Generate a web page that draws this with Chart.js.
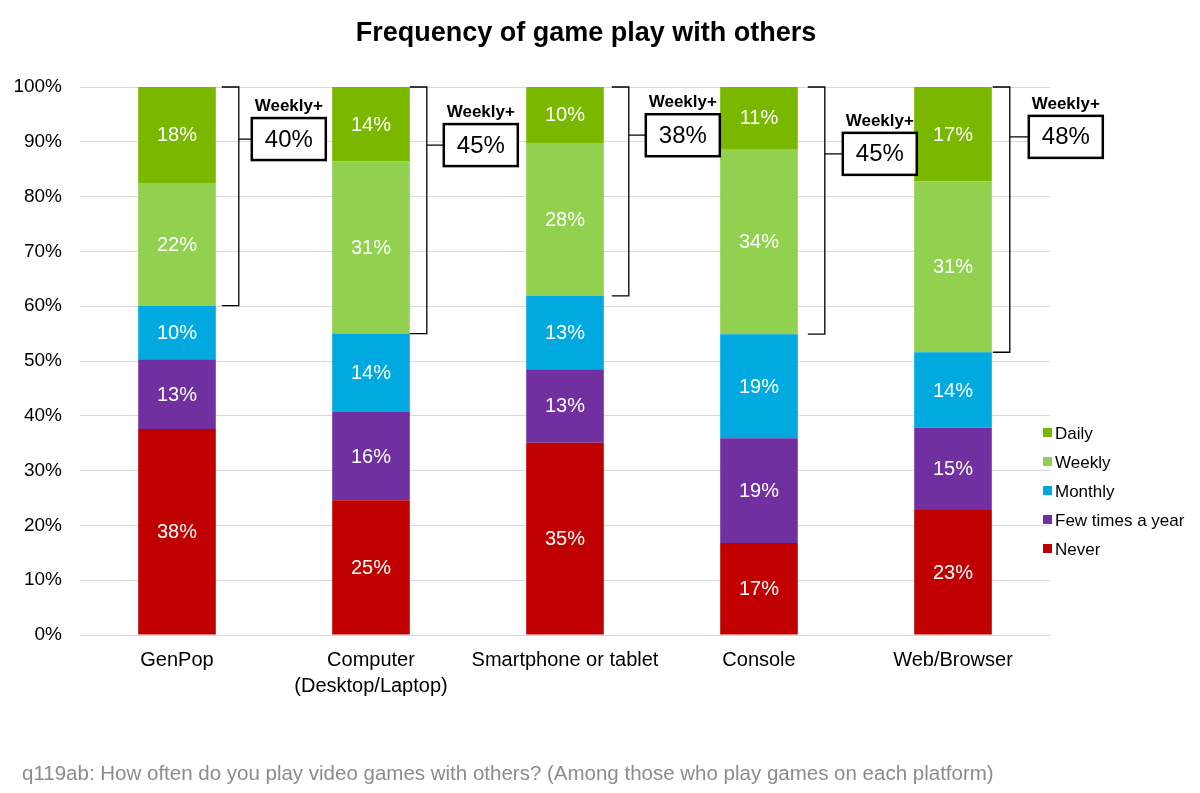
<!DOCTYPE html>
<html lang="en">
<head>
<meta charset="UTF-8">
<title>Frequency of game play with others</title>
<script src="https://cdn.jsdelivr.net/npm/chart.js"></script>
<style>
  html, body { margin: 0; padding: 0; background: #fff; }
  #wrap { width: 1200px; height: 793px; position: relative; }
</style>
</head>
<body>
<div id="wrap"><canvas id="chart"></canvas></div>
<script>
// data
const categories = ['GenPop', ['Computer', '(Desktop/Laptop)'], 'Smartphone or tablet', 'Console', 'Web/Browser'];
const never    = [37.6, 24.6, 35.1, 16.8, 22.8];
const fewTimes = [12.7, 16.1, 13.4, 19.1, 15.0];
const monthly  = [9.8, 14.3, 13.4, 19.0, 13.8];
const weekly   = [22.4, 31.4, 27.9, 33.8, 31.2];
const daily    = [17.5, 13.6, 10.2, 11.3, 17.2];
const weeklyPlus = [40, 45, 38, 45, 48];
const seriesNames = ['Never', 'Few times a year', 'Monthly', 'Weekly', 'Daily'];
const seriesColors = ['#C00000', '#7030A0', '#00A9E0', '#92D050', '#7AB800'];

const FONT = '"Liberation Sans", Arial, sans-serif';

// where each Weekly+ callout sits: bracket offset from bar edge (px), box centre on the y scale (%)
const calloutPos = [
  { dx: 23, gap: 13, at: 90.5 },
  { dx: 17, gap: 17, at: 89.4 },
  { dx: 25, gap: 17, at: 91.2 },
  { dx: 27, gap: 18, at: 87.8 },
  { dx: 18, gap: 19, at: 90.9 }
];

const segLabels = {
  id: 'segLabels',
  afterDatasetsDraw(chart) {
    const ctx = chart.ctx;
    ctx.save();
    ctx.font = '20px ' + FONT;
    ctx.fillStyle = '#fff';
    ctx.textAlign = 'center';
    ctx.textBaseline = 'middle';
    chart.data.datasets.forEach((ds, di) => {
      chart.getDatasetMeta(di).data.forEach((bar, i) => {
        ctx.fillText(Math.round(ds.data[i]) + '%', bar.x, (bar.y + bar.base) / 2 + 1);
      });
    });
    ctx.restore();
  }
};

const callouts = {
  id: 'callouts',
  afterDatasetsDraw(chart) {
    const ctx = chart.ctx;
    const y = chart.scales.y;
    const weeklyMeta = chart.getDatasetMeta(3);
    const top = y.getPixelForValue(100);
    ctx.save();
    weeklyMeta.data.forEach((bar, i) => {
      const p = calloutPos[i];
      const right = bar.x + bar.width / 2;
      const bx = right + p.dx;
      const bottom = bar.base;
      const tick = Math.min(p.dx, 17);
      const cy = y.getPixelForValue(p.at);
      ctx.strokeStyle = '#000';
      ctx.lineWidth = 1.3;
      ctx.beginPath();
      ctx.moveTo(bx - tick, top);
      ctx.lineTo(bx, top);
      ctx.lineTo(bx, bottom);
      ctx.lineTo(bx - tick, bottom);
      ctx.moveTo(bx, cy);
      ctx.lineTo(bx + p.gap, cy);
      ctx.stroke();

      const w = 74, h = 42;
      const left = bx + p.gap;
      ctx.lineWidth = 2.5;
      ctx.fillStyle = '#fff';
      ctx.fillRect(left, cy - h / 2, w, h);
      ctx.strokeRect(left, cy - h / 2, w, h);

      ctx.fillStyle = '#000';
      ctx.textAlign = 'center';
      ctx.textBaseline = 'middle';
      ctx.font = '24px ' + FONT;
      ctx.fillText(weeklyPlus[i] + '%', left + w / 2, cy + 1);
      ctx.font = 'bold 17px ' + FONT;
      ctx.fillText('Weekly+', left + w / 2, cy - h / 2 - 12);
    });
    ctx.restore();
  }
};

const extras = {
  id: 'extras',
  afterDraw(chart) {
    const ctx = chart.ctx;
    const area = chart.chartArea;
    ctx.save();
    // title
    ctx.fillStyle = '#000';
    ctx.font = 'bold 27px ' + FONT;
    ctx.textAlign = 'center';
    ctx.textBaseline = 'middle';
    ctx.fillText('Frequency of game play with others', 586, 34);
    // legend (top series first)
    ctx.font = '17px ' + FONT;
    ctx.textAlign = 'left';
    for (let k = 0; k < seriesNames.length; k++) {
      const di = seriesNames.length - 1 - k;
      const ly = 433 + k * 29;
      ctx.fillStyle = seriesColors[di];
      ctx.fillRect(area.right - 7, ly - 5, 9, 9);
      ctx.fillStyle = '#000';
      ctx.fillText(seriesNames[di], area.right + 5, ly + 1);
    }
    // footnote
    ctx.fillStyle = '#8c8c8c';
    ctx.font = '20.5px ' + FONT;
    ctx.fillText('q119ab: How often do you play video games with others? (Among those who play games on each platform)', 22, 774);
    ctx.restore();
  }
};

new Chart(document.getElementById('chart'), {
  type: 'bar',
  data: {
    labels: categories,
    datasets: [never, fewTimes, monthly, weekly, daily].map((d, i) => ({
      label: seriesNames[i],
      data: d,
      backgroundColor: seriesColors[i],
      borderWidth: 0,
      categoryPercentage: 1,
      barPercentage: 0.4
    }))
  },
  options: {
    responsive: true,
    maintainAspectRatio: false,
    animation: false,
    layout: { padding: { top: 87, left: 0, right: 150, bottom: 58 } },
    plugins: {
      legend: { display: false },
      title: { display: false },
      tooltip: { enabled: false }
    },
    scales: {
      x: {
        stacked: true,
        grid: { display: false },
        border: { display: true, color: '#d9d9d9' },
        ticks: { color: '#000', font: { family: FONT, size: 20, lineHeight: 1.3 }, padding: 4, maxRotation: 0 },
        afterFit(s) { s.height = 100; }
      },
      y: {
        stacked: true,
        min: 0,
        max: 100,
        grid: { color: '#d9d9d9', drawTicks: false },
        border: { display: false },
        ticks: {
          stepSize: 10,
          color: '#000',
          padding: 18,
          font: { family: FONT, size: 19 },
          callback: v => v + '%'
        },
        afterFit(s) { s.width = 80; }
      }
    }
  },
  plugins: [segLabels, callouts, extras]
});
</script>
</body>
</html>
